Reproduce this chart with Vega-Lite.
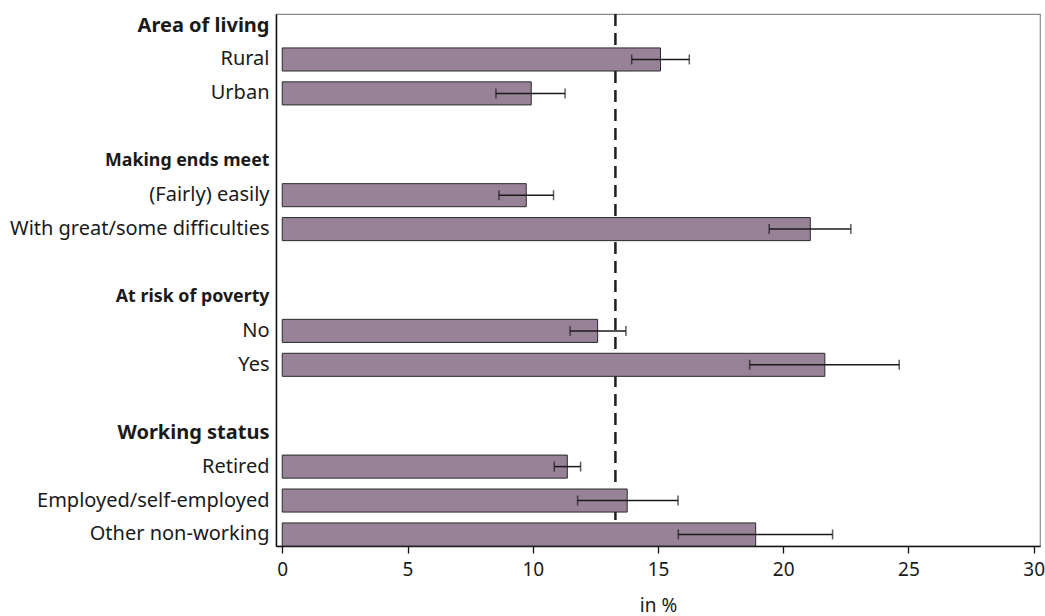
{
  "$schema": "https://vega.github.io/schema/vega-lite/v6.json",
  "width": 764,
  "height": 532,
  "autosize": {"type": "none"},
  "padding": {"left": 276, "top": 14, "right": 5, "bottom": 70},
  "config": {
    "font": "Noto Sans",
    "view": {"stroke": "#8a8a8a", "strokeWidth": 1.2}
  },
  "data": {
    "values": [
      {"group": "Area of living", "label": "Rural", "value": 15.1, "lo": 13.95, "hi": 16.25},
      {"group": "Area of living", "label": "Urban", "value": 9.94, "lo": 8.53, "hi": 11.29},
      {"group": "Making ends meet", "label": "(Fairly) easily", "value": 9.74, "lo": 8.65, "hi": 10.83},
      {"group": "Making ends meet", "label": "With great/some difficulties", "value": 21.08, "lo": 19.44, "hi": 22.7},
      {"group": "At risk of poverty", "label": "No", "value": 12.59, "lo": 11.49, "hi": 13.72},
      {"group": "At risk of poverty", "label": "Yes", "value": 21.66, "lo": 18.66, "hi": 24.63},
      {"group": "Working status", "label": "Retired", "value": 11.38, "lo": 10.86, "hi": 11.91},
      {"group": "Working status", "label": "Employed/self-employed", "value": 13.77, "lo": 11.79, "hi": 15.8},
      {"group": "Working status", "label": "Other non-working", "value": 18.9, "lo": 15.81, "hi": 21.97}
    ]
  },
  "layer": [
    {
      "data": {"values": [{"overall": 13.3}]},
      "mark": {"type": "rule", "color": "#1f1f1f", "strokeWidth": 2.5, "strokeDash": [12, 7]},
      "encoding": {
        "x": {"field": "overall", "type": "quantitative", "scale": {"domain": [-0.25, 30.25], "nice": false, "zero": false}}
      }
    },
    {
      "mark": {"type": "bar", "color": "#978297", "stroke": "#2b2b2b", "strokeWidth": 1},
      "encoding": {
        "y": {
          "field": "label",
          "type": "nominal",
          "sort": null,
          "title": null,
          "scale": {
            "domain": [
              "Area of living", "Rural", "Urban", " ",
              "Making ends meet", "(Fairly) easily", "With great/some difficulties", "  ",
              "At risk of poverty", "No", "Yes", "   ",
              "Working status", "Retired", "Employed/self-employed", "Other non-working"
            ],
            "paddingInner": 0.32,
            "paddingOuter": 0
          },
          "axis": {
            "domain": true,
            "domainColor": "#111111",
            "domainWidth": 1.5,
            "ticks": false,
            "labelPadding": 7,
            "labelFontSize": {
              "condition": {
                "test": "indexof(['Making ends meet','At risk of poverty'], datum.value) >= 0",
                "value": 17.8
              },
              "value": 20
            },
            "labelColor": "#1a1a1a",
            "labelLimit": 400,
            "labelFontWeight": {
              "condition": {
                "test": "indexof(['Area of living','Making ends meet','At risk of poverty','Working status'], datum.value) >= 0",
                "value": "bold"
              },
              "value": "normal"
            }
          }
        },
        "x": {
          "field": "value",
          "type": "quantitative",
          "title": "in %",
          "scale": {"domain": [-0.25, 30.25], "nice": false, "zero": false},
          "axis": {
            "values": [0, 5, 10, 15, 20, 25, 30],
            "grid": false,
            "domainColor": "#111111",
            "domainWidth": 1.5,
            "tickColor": "#111111",
            "tickSize": 7,
            "tickWidth": 1.3,
            "labelFontSize": 19,
            "labelColor": "#1a1a1a",
            "labelPadding": 7,
            "labelFlush": false,
            "titleFontSize": 19,
            "titleFontWeight": "normal",
            "titleColor": "#1a1a1a",
            "titlePadding": 17
          }
        },
        "x2": {"datum": 0}
      }
    },
    {
      "mark": {"type": "rule", "color": "#1a1a1a", "strokeWidth": 1.5},
      "encoding": {
        "y": {"field": "label", "type": "nominal"},
        "x": {"field": "lo", "type": "quantitative"},
        "x2": {"field": "hi"}
      }
    },
    {
      "mark": {"type": "tick", "orient": "vertical", "color": "#1a1a1a", "thickness": 1.5, "size": 10},
      "encoding": {
        "y": {"field": "label", "type": "nominal"},
        "x": {"field": "lo", "type": "quantitative"}
      }
    },
    {
      "mark": {"type": "tick", "orient": "vertical", "color": "#1a1a1a", "thickness": 1.5, "size": 10},
      "encoding": {
        "y": {"field": "label", "type": "nominal"},
        "x": {"field": "hi", "type": "quantitative"}
      }
    }
  ]
}
